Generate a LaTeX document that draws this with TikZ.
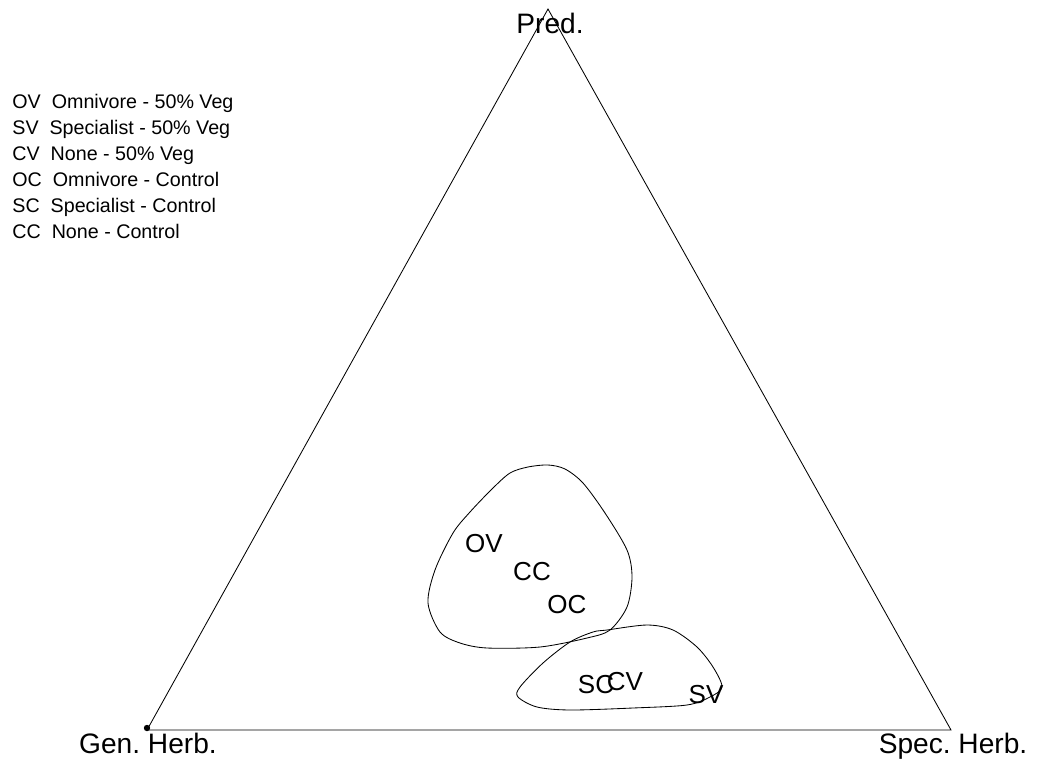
\documentclass[tikz,border=0pt]{standalone}
\usepackage{fontspec}
\setmainfont{Liberation Sans}

\begin{document}
\begin{tikzpicture}[x=0.025cm, y=-0.025cm, line width=0.6pt,
    corner/.style ={anchor=base, font=\fontsize{20}{24}\selectfont, inner sep=0pt},
    group/.style ={anchor=base, font=\fontsize{18.5}{22}\selectfont, inner sep=0pt},
    legend/.style ={anchor=base west, font=\fontsize{14}{16}\selectfont, inner sep=0pt}]
   \useasboundingbox (0,0) rectangle (1040,764);
   % triangle corners
   \coordinate (P) at (548,9);
   \coordinate (G) at (147,730);
   \coordinate (S) at (951,730);
   \draw (P) -- (G) -- (S) -- cycle;
   \fill (G) ++(0,-2) circle (3.2);
   \node[corner] (pred) at (550,33) {Pred.};
   \node[corner] (gen) at (148,753) {Gen.\ Herb.};
   \node[corner] (spec) at (953,753) {Spec.\ Herb.};
   % legend
   \node[legend] (l1) at (12,108) {OV\ \ Omnivore - 50\% Veg};
   \node[legend] (l2) at (12,134) {SV\ \ Specialist - 50\% Veg};
   \node[legend] (l3) at (12,160) {CV\ \ None - 50\% Veg};
   \node[legend] (l4) at (12,186) {OC\ \ Omnivore - Control};
   \node[legend] (l5) at (12,212) {SC\ \ Specialist - Control};
   \node[legend] (l6) at (12,238) {CC\ \ None - Control};
   % hulls
   \draw plot[smooth cycle, tension=0.5] coordinates {(528,467) (548,465) (565,469) (583,483) (605,513)
      (627,550) (632,577) (627,607) (610,630) (587,638) (540,647) (487,648) (460,643)
      (440,632) (428,603) (435,570) (453,533) (470,512) (492,489) (510,473)};
   \draw plot[smooth cycle, tension=0.5] coordinates {(607,630) (647,625) (673,630) (697,647)
      (713,667) (722,687) (710,697) (687,705) (633,708) (570,710) (537,707)
      (518,697) (520,687) (543,663) (570,642) (593,632)};
   % group labels
   \node[group] (ov) at (484,552) {OV};
   \node[group] (cc) at (532,580) {CC};
   \node[group] (oc) at (567,613) {OC};
   \node[group] (sc) at (596,693) {SC};
   \node[group] (cv) at (625,690) {CV};
   \node[group] (sv) at (706,703) {SV};
\end{tikzpicture}
\end{document}
